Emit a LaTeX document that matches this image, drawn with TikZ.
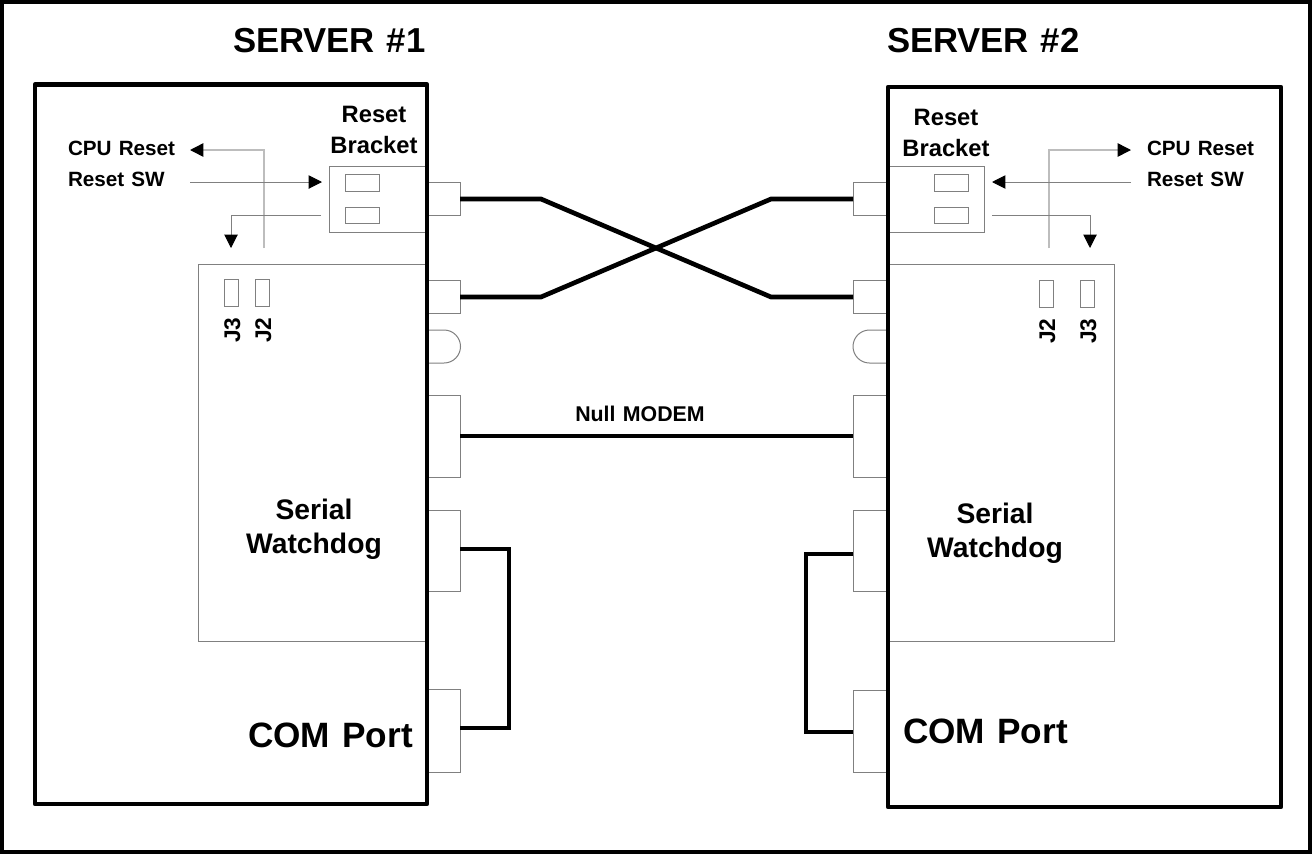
\documentclass[tikz,border=0pt]{standalone}
\usepackage{fontspec}
\setmainfont[WordSpace=1.25]{Liberation Sans}
\usetikzlibrary{arrows.meta}
\definecolor{thinline}{HTML}{808080}
\definecolor{paleline}{HTML}{BDBDBD}
\tikzset{
  x=0.75pt,y=-0.75pt,
  partbox/.style={draw=thinline,line width=0.75pt,fill=white,inner sep=0pt,outer sep=0pt},
  serverbox/.style={draw=black,line width=3.6pt,inner sep=0pt,outer sep=0pt,line join=round},
  cable/.style={draw=black,line width=3.5pt,line join=miter},
  sig/.style={draw=thinline,line width=0.75pt,-{Triangle[length=10pt,width=10pt,color=black]}},
  palesig/.style={draw=paleline,line width=1.1pt,-{Triangle[length=10pt,width=10pt,color=black]}},
  txt/.style={inner sep=0pt,outer sep=0pt,font=\bfseries,text=black},
  title/.style={txt,anchor=base west,font=\fontsize{26}{30}\selectfont\bfseries},
  port/.style={txt,anchor=base west,font=\fontsize{26.4}{30}\selectfont\bfseries},
  mid/.style={txt,anchor=base,font=\fontsize{21.2}{25}\selectfont\bfseries},
  brk/.style={txt,anchor=base,font=\fontsize{17.8}{21}\selectfont\bfseries},
  sm/.style={txt,anchor=base west,font=\fontsize{15.5}{18}\selectfont\bfseries},
  jl/.style={txt,anchor=base,rotate=90,font=\fontsize{17}{20}\selectfont\bfseries},
}
\newcommand{\boxat}[6][partbox]{%
  \node[#1,minimum width={(#5-#3)*0.75pt},minimum height={(#6-#4)*0.75pt}] (#2) at ({(#3+#5)/2},{(#4+#6)/2}) {};}
\begin{document}
\begin{tikzpicture}
\useasboundingbox (0,0) rectangle (1312,854);
\fill[white] (0,0) rectangle (1312,854);

% left server parts
\boxat{bracketL}{329}{166}{427}{232}
\boxat{holeLa}{345}{174}{379}{191}
\boxat{holeLb}{345}{207}{379}{223}
\boxat{wdogL}{198}{264}{427}{641}
\boxat{jthreeL}{224}{279}{238}{306}
\boxat{jtwoL}{255}{279}{269}{306}
\boxat{plugLa}{427}{182.5}{460}{215.5}
\boxat{plugLb}{427}{280.5}{460}{313.5}
\boxat{nullL}{427}{395}{460}{477}
\boxat{serL}{427}{510}{460}{591}
\boxat{comL}{427}{689}{460}{772}
\draw[partbox] (427,330) -- (444,330) arc[start angle=-90,end angle=90,radius=16.5] -- (427,363);

% right server parts
\boxat{bracketR}{888}{166}{984}{232}
\boxat{holeRa}{934}{174}{968}{191}
\boxat{holeRb}{934}{207}{968}{223}
\boxat{wdogR}{888}{264}{1114}{641}
\boxat{jtwoR}{1039}{280}{1053}{307}
\boxat{jthreeR}{1080}{280}{1094}{307}
\boxat{plugRa}{853}{182.5}{888}{215.5}
\boxat{plugRb}{853}{280.5}{888}{313.5}
\boxat{nullR}{853}{395}{888}{477}
\boxat{serR}{853}{510}{888}{591}
\boxat{comR}{853}{690}{888}{772}
\draw[partbox] (888,330) -- (869.5,330) arc[start angle=-90,end angle=-270,radius=16.5] -- (888,363);

% server outlines
\boxat[serverbox]{serverL}{35}{84.5}{427}{804}
\boxat[serverbox]{serverR}{888}{87}{1281}{807}
\draw[draw=black,line width=3pt] (2,2) rectangle (1310,852);

% crossed cables
\coordinate (xa) at (541,199);
\coordinate (xb) at (771,297);
\coordinate (xc) at (541,297);
\coordinate (xd) at (771,199);
\draw[cable] (plugLa.east) -- (xa) -- (xb) -- (plugRb.west);
\draw[cable] (plugLb.east) -- (xc) -- (xd) -- (plugRa.west);
\draw[cable] (nullL.east) -- (nullR.west);
\coordinate (loopLa) at (509,549);
\coordinate (loopLb) at (509,728);
\coordinate (loopRa) at (806,554);
\coordinate (loopRb) at (806,732);
\draw[cable] (serL.east |- loopLa) -- (loopLa) -- (loopLb) -- (comL.east |- loopLb);
\draw[cable] (serR.west |- loopRa) -- (loopRa) -- (loopRb) -- (comR.west |- loopRb);

% signal arrows, left
\coordinate (cpuLs) at (264,248); \coordinate (cpuLm) at (264,150); \coordinate (cpuLe) at (190,150);
\draw[palesig] (cpuLs) -- (cpuLm) -- (cpuLe);
\coordinate (swLs) at (190,182); \coordinate (swLe) at (322,182);
\draw[sig] (swLs) -- (swLe);
\coordinate (oLs) at (321,215); \coordinate (oLm) at (231,215); \coordinate (oLe) at (231,248);
\draw[sig] (oLs) -- (oLm) -- (oLe);

% signal arrows, right
\coordinate (cpuRs) at (1049,248); \coordinate (cpuRm) at (1049,150); \coordinate (cpuRe) at (1131,150);
\draw[palesig] (cpuRs) -- (cpuRm) -- (cpuRe);
\coordinate (swRs) at (1131,182); \coordinate (swRe) at (992,182);
\draw[sig] (swRs) -- (swRe);
\coordinate (oRs) at (992,215); \coordinate (oRm) at (1090,215); \coordinate (oRe) at (1090,248);
\draw[sig] (oRs) -- (oRm) -- (oRe);

% texts
\node[title] (tA) at (233,52) {SERVER \#1};
\node[title] (tB) at (887,52) {SERVER \#2};
\node[brk] (rA) at (374,122) {Reset};
\node[brk] (bA) at (374,153) {Bracket};
\node[brk] (rB) at (946,125) {Reset};
\node[brk] (bB) at (946,156) {Bracket};
\node[sm] (cA) at (68,155) {CPU Reset};
\node[sm] (sA) at (68,186) {Reset SW};
\node[sm] (cB) at (1147,155) {CPU Reset};
\node[sm] (sB) at (1147,186) {Reset SW};
\node[jl] (jA) at (240,330) {J3};
\node[jl] (jB) at (271,330) {J2};
\node[jl] (jC) at (1055,331) {J2};
\node[jl] (jD) at (1096,331) {J3};
\node[brk,font=\fontsize{16}{19}\selectfont\bfseries] (nm) at (640,421) {Null MODEM};
\node[mid] (wA) at (314,519) {Serial};
\node[mid] (wB) at (314,553) {Watchdog};
\node[mid] (wC) at (995,523) {Serial};
\node[mid] (wD) at (995,557) {Watchdog};
\node[port] (pA) at (248,747) {COM Port};
\node[port] (pB) at (903,743) {COM Port};
\end{tikzpicture}
\end{document}
